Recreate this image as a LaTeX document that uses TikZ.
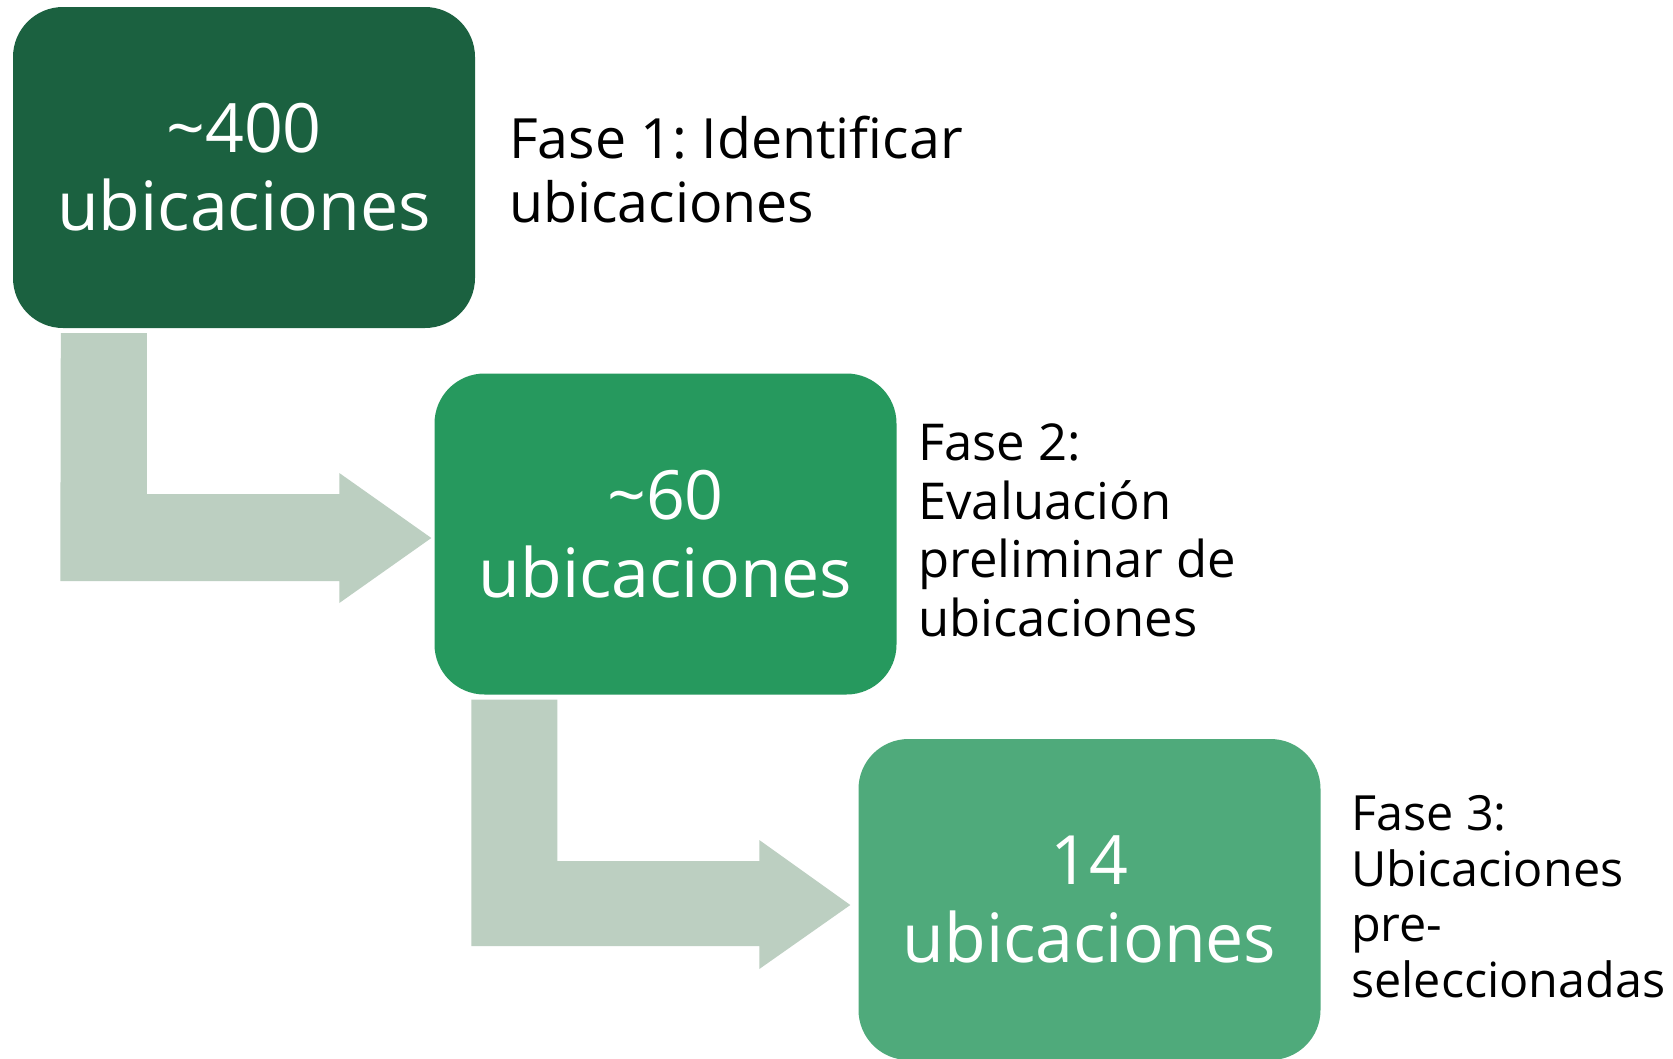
\documentclass[tikz,border=0pt]{standalone}
\usepackage{fontspec}
\setmainfont{Open Sans}
\usetikzlibrary{calc}
\definecolor{boxa}{RGB}{27,97,64}
\definecolor{boxb}{RGB}{38,153,94}
\definecolor{boxc}{RGB}{79,170,123}
\definecolor{flowc}{RGB}{188,207,193}
\frenchspacing
\begin{document}
\begin{tikzpicture}[x=1pt,y=-1pt,
  stepbox/.style={rounded corners=50pt, minimum width=462pt, minimum height=321pt,
    inner sep=0pt, text=white, align=center, font=\fontsize{68}{78}\selectfont},
  phase/.style={anchor=base west, inner sep=0pt, align=left, text=black},
  flow/.style={fill=flowc, draw=none}]
\useasboundingbox (0,0) rectangle (1673,1058);
\fill[white] (0,0) rectangle (1673,1058);

\node[stepbox, fill=boxa] (b1) at (244,167.5) {\textasciitilde400\\ubicaciones};
\node[stepbox, fill=boxb] (b2) at (665.5,534) {\textasciitilde60\\ubicaciones};
\node[stepbox, fill=boxc] (b3) at (1089.5,899.5) {14\\ubicaciones};

\fill[flow] ($(b1.south west)+(48,5)$) -- ++(86,0) |- ($(b2.west)+(-95,-40)$) -- ++(0,-21)
  -- ($(b2.west)+(-3,4)$) -- ($(b2.west)+(-95,69)$) -- ++(0,-22) -- ++(-279,0) -- cycle;
\fill[flow] ($(b2.south west)+(37,5)$) -- ++(86,0) |- ($(b3.west)+(-99,-38.5)$) -- ++(0,-21)
  -- ($(b3.west)+(-8,5.5)$) -- ($(b3.west)+(-99,69.5)$) -- ++(0,-23) -- ++(-288,0) -- cycle;

% anchor base = baseline of the last line
\node[phase, font=\fontsize{55.5}{64}\selectfont] (l1) at (509,222) {Fase 1: Identificar\\ubicaciones};
\node[phase, font=\fontsize{50.8}{58.5}\selectfont] (l2) at (918,636) {Fase 2:\\Evaluación\\preliminar de\\ubicaciones};
\node[phase, font=\fontsize{48.5}{55.5}\selectfont] (l3) at (1351,997) {Fase 3:\\Ubicaciones\\pre-\\seleccionadas};
\end{tikzpicture}
\end{document}
